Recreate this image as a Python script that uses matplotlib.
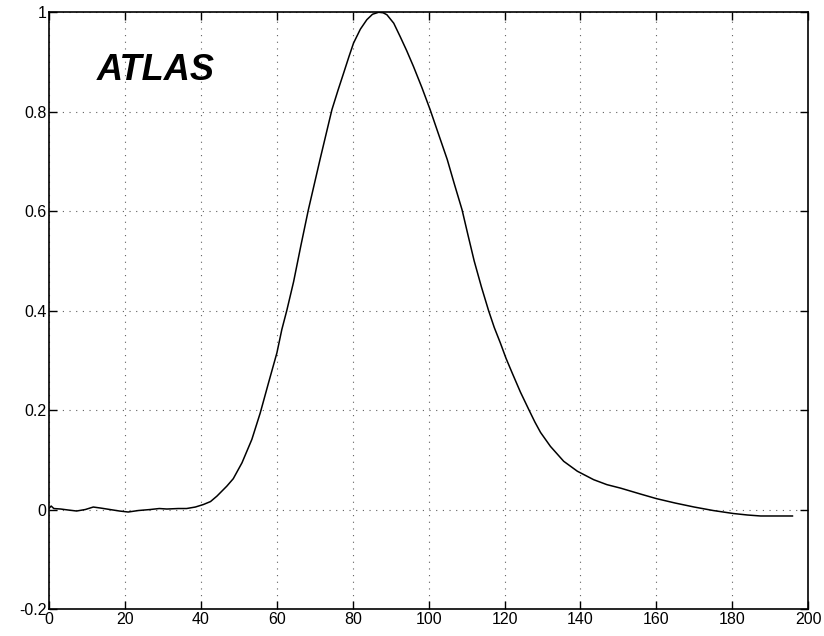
import matplotlib
matplotlib.use("Agg")
import matplotlib.pyplot as plt
from matplotlib.ticker import FuncFormatter

plt.rcParams['font.family'] = ['Liberation Sans', 'DejaVu Sans']
plt.rcParams['axes.unicode_minus'] = False

# Pulse shape
x_vals = [0, 0.5, 1.2, 3, 5, 7.2, 9.5, 11.6, 13.5, 16, 18.5, 20.8, 23.5, 26.6, 29,
          31, 34, 36.2, 38.5, 40.6, 42.5, 44.2, 46.8,
          48.5, 50.8, 53.4, 55.6, 57.8, 60.0, 61.3, 62.6, 64.4, 66.3, 68.3, 71.4,
          74.5, 76.1, 77.6, 79.0, 80.2, 82.0, 83.7, 85.2, 86.8, 88.0, 89.0, 90.8,
          92.5, 94.2, 96.0, 98.2, 100.4, 102.6, 104.9, 106.8, 108.8, 110.4, 112.0,
          113.9, 115.8, 117.3, 118.9, 120.4, 122.0, 124.2, 126.4, 128.0, 129.5,
          132.1, 135.6, 139.2, 143.5, 147, 150.6, 155.9,
          160, 165, 170, 175, 180.3, 184, 187.5, 191, 195.9]
y_vals = [0.003, 0.007, 0.002, 0.001, -0.001, -0.003, 0.0, 0.005, 0.003, 0.0, -0.003,
          -0.005, -0.002, 0.0, 0.002, 0.001, 0.002, 0.002, 0.005, 0.01,
          0.016, 0.027, 0.047, 0.062, 0.094, 0.141, 0.194, 0.255, 0.315, 0.362,
          0.400, 0.458, 0.530, 0.603, 0.705, 0.804, 0.843, 0.878, 0.911, 0.938,
          0.966, 0.985, 0.996, 1.0, 0.999, 0.995, 0.978, 0.951, 0.923, 0.891, 0.849,
          0.804, 0.755, 0.704, 0.654, 0.603, 0.551, 0.500, 0.448, 0.400, 0.366,
          0.335, 0.304, 0.275, 0.236, 0.201, 0.176, 0.155, 0.127, 0.097,
          0.077, 0.060, 0.050, 0.043, 0.031, 0.022, 0.013, 0.005, -0.002, -0.008,
          -0.011, -0.013, -0.013, -0.013]

x_ticks = [0, 20, 40, 60, 80, 100, 120, 140, 160, 180, 200]
y_ticks = [-0.2, 0, 0.2, 0.4, 0.6, 0.8, 1]
label_text = "ATLAS"

fig = plt.figure(figsize=(8.24, 6.36), dpi=100)
ax = fig.add_axes([0.0598, 0.0425, 0.9208, 0.9382])

ax.plot(x_vals, y_vals, color='black', linewidth=1.1)

ax.set_xlim(0, 200)
ax.set_ylim(-0.2, 1)
ax.set_xticks(x_ticks)
ax.set_yticks(y_ticks)
ax.yaxis.set_major_formatter(FuncFormatter(lambda v, p: ('%g' % round(v, 2))))
ax.xaxis.set_major_formatter(FuncFormatter(lambda v, p: ('%g' % v)))

ax.grid(True, color='#606060', linestyle=(0, (1, 5)), linewidth=0.8)
ax.tick_params(direction='in', length=6, width=1.0, top=True, right=True,
               labelsize=11.5, pad=2, colors='black')
for s in ax.spines.values():
    s.set_linewidth(1.2)
    s.set_color('black')

ax.text(12.6, 0.864, label_text, fontsize=26, fontweight='bold', fontstyle='italic',
        ha='left', va='baseline', color='black')

fig.savefig('out.png', dpi=100)
